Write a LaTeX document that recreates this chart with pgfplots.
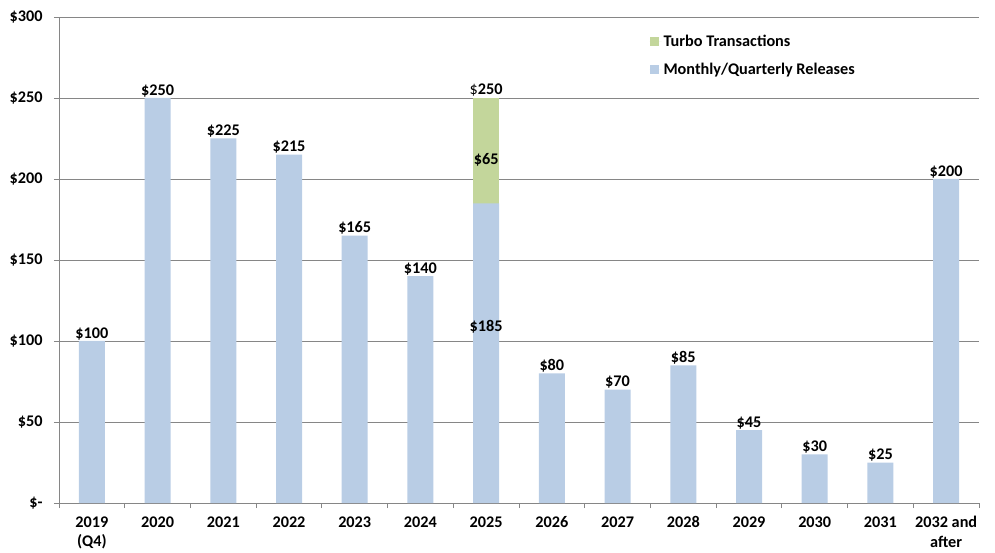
\documentclass[border=0pt]{standalone}
\usepackage{fontspec}
\setmainfont{Carlito}
\usepackage{pgfplots}
\pgfplotsset{compat=1.18}
\definecolor{barblue}{HTML}{B9CDE5}
\definecolor{bargreen}{HTML}{C3D69B}
\definecolor{gridgray}{HTML}{868686}
\newcommand{\lblfont}{\fontsize{16.3}{19.5}\selectfont\bfseries}
\pgfplotsset{sqlegend/.style={legend image code/.code={%
    \fill[##1] (0bp,-4.5bp) rectangle (9bp,4.5bp);
    \path (0bp,0bp) -- (12bp,0bp);}}}
\begin{document}
\begin{tikzpicture}
\begin{axis}[
    at={(0,0)}, anchor=south west,
    scale only axis,
    width=920bp, height=486bp,
    xmin=-0.5, xmax=13.5,
    ymin=0, ymax=300,
    axis x line*=bottom, axis y line*=left,
    axis line style={gridgray, line width=0.8bp},
    ymajorgrids=true,
    grid style={gridgray, line width=0.8bp},
    tick align=outside,
    major tick length=5bp, minor tick length=5bp,
    tick style={gridgray, line width=0.8bp},
    xtick={0,...,13},
    major x tick style={draw=none},
    minor xtick={-0.5,0.5,...,13.5},
    xticklabels={2019\\(Q4),2020,2021,2022,2023,2024,2025,2026,2027,2028,2029,2030,2031,2032 and\\after},
    x tick label style={align=center, font=\lblfont, yshift=-5bp},
    ytick={0,50,...,300},
    yticklabels={\$-,\$50,\$100,\$150,\$200,\$250,\$300},
    y tick label style={font=\lblfont, xshift=-8bp},
    legend style={draw=none, fill=none, at={(0.6395,0.972)}, anchor=north west,
        font=\lblfont, row sep=11bp, inner sep=2bp},
    legend cell align=left,
    clip=false,
]
\addplot[ybar, bar width=26bp, bar shift=0pt, fill=bargreen, draw=none, sqlegend]
    coordinates {(6,250)};
\addlegendentry{Turbo Transactions}
\addplot[ybar, bar width=26bp, bar shift=0pt, fill=barblue, draw=none, sqlegend]
    coordinates {(0,100) (1,250) (2,225) (3,215) (4,165) (5,140) (6,185)
                 (7,80) (8,70) (9,85) (10,45) (11,30) (12,25) (13,200)};
\addlegendentry{Monthly/Quarterly Releases}
% data labels
\addplot[draw=none, mark=none, forget plot,
    nodes near coords, point meta=explicit symbolic,
    every node near coord/.append style={anchor=south, inner sep=1bp, font=\lblfont}]
    coordinates {(0,100)[\$100] (1,250)[\$250] (2,225)[\$225] (3,215)[\$215]
                 (4,165)[\$165] (5,140)[\$140] (6,250)[{\mdseries\$}250]
                 (7,80)[\$80] (8,70)[\$70] (9,85)[\$85] (10,45)[\$45]
                 (11,30)[\$30] (12,25)[\$25] (13,200)[\$200]};
\addplot[draw=none, mark=none, forget plot,
    nodes near coords, point meta=explicit symbolic,
    every node near coord/.append style={anchor=center, inner sep=0bp, font=\lblfont}]
    coordinates {(6,212)[\$65] (6,108.5)[\$185]};
\path[use as bounding box] (rel axis cs:0,0) ++(-59bp,-50bp) rectangle ++(995bp,553bp);
\end{axis}
\end{tikzpicture}
\end{document}
